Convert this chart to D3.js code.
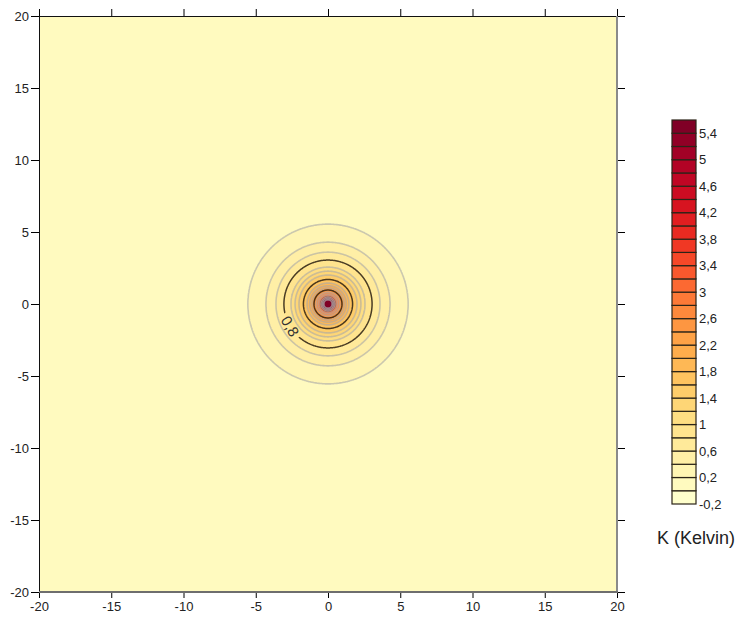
<!DOCTYPE html>
<html><head><meta charset="utf-8">
<script src="https://cdn.jsdelivr.net/npm/d3@7"></script>
<style>
body{margin:0;background:#fff}
svg text{font-family:"Liberation Sans",Arial,sans-serif}
</style>
</head><body>
<svg id="chart" width="740" height="618"></svg>
<script>
// ---- data ----
const xTicks = [-20, -15, -10, -5, 0, 5, 10, 15, 20];
const yTicks = [-20, -15, -10, -5, 0, 5, 10, 15, 20];
// lower edges of colour bands (K)
const bandLevels = [-0.2, 0, 0.2, 0.4, 0.6, 0.8, 1.0, 1.2, 1.4, 1.6, 1.8, 2.0, 2.2, 2.4, 2.6,
  2.8, 3.0, 3.2, 3.4, 3.6, 3.8, 4.0, 4.2, 4.4, 4.6, 4.8, 5.0, 5.2, 5.4];
const bandStep = 0.2;
const barTickValues = [-0.2, 0.2, 0.6, 1, 1.4, 1.8, 2.2, 2.6, 3, 3.4, 3.8, 4.2, 4.6, 5, 5.4];
const darkLevels = [0.8, 1.6, 2.4];
const midLevels = [3.2, 4.0, 4.8];
const labelLevel = 0.8;
// radial temperature profile (distance, K)
const profileRadius = [0, 0.26, 0.32, 0.4, 0.49, 0.57, 0.67, 0.81, 0.97, 1.11, 1.27, 1.45, 1.70, 2.01, 2.28, 2.56, 3.05, 3.60, 4.29, 5.54, 7.0, 30];
const profileValue  = [5.6, 5.45, 5.0, 4.2, 3.4, 3.0, 2.8, 2.6, 2.4, 2.2, 2.0, 1.8, 1.6, 1.4, 1.2, 1.0, 0.8, 0.6, 0.4, 0.2, 0.1, 0.05];
const colorbarTitle = "K (Kelvin)";

// ---- layout ----
const svg = d3.select("#chart");
const x = d3.scaleLinear().domain([-20, 20]).range([39, 617]);
const y = d3.scaleLinear().domain([-20, 20]).range([592, 16]);
const nb = bandLevels.length;
const bandColor = i => d3.interpolateYlOrRd(i / (nb - 1));
const fmt = d3.formatLocale({decimal: ",", thousands: ".", grouping: [3], currency: ["", ""], minus: "-"}).format(".1~f");

// ---- grid from profile ----
const g0 = -8, g1 = 8, step = 0.04;
const n = Math.round((g1 - g0) / step) + 1;
const bis = d3.bisector(d => d).right;
function profile(r) {
  let k = bis(profileRadius, r) - 1;
  if (k < 0) k = 0;
  if (k >= profileRadius.length - 1) return profileValue[profileValue.length - 1];
  const t = (r - profileRadius[k]) / (profileRadius[k + 1] - profileRadius[k]);
  return profileValue[k] + t * (profileValue[k + 1] - profileValue[k]);
}
const values = new Float64Array(n * n);
for (let j = 0; j < n; j++) {
  const yy = g1 - j * step;
  for (let i = 0; i < n; i++) {
    const xx = g0 + i * step;
    values[j * n + i] = profile(Math.hypot(xx, yy));
  }
}
const thresholds = bandLevels.filter(l => l > 0.1);
const contours = d3.contours().size([n, n]).thresholds(thresholds)(values);
const proj = d3.geoTransform({
  point: function(px, py) {
    this.stream.point(x(g0 + (px - 0.5) * step), y(g1 - (py - 0.5) * step));
  }
});
const path = d3.geoPath(proj);
const isLevel = (a, b) => Math.abs(a - b) < 1e-6;
const inList = (list, v) => list.some(d => isLevel(d, v));

// clip
svg.append("clipPath").attr("id", "plotclip").append("rect")
  .attr("x", x(-20)).attr("y", y(20)).attr("width", x(20) - x(-20)).attr("height", y(-20) - y(20));

const plot = svg.append("g").attr("clip-path", "url(#plotclip)");
plot.append("rect").attr("x", x(-20)).attr("y", y(20))
  .attr("width", x(20) - x(-20)).attr("height", y(-20) - y(20))
  .attr("fill", bandColor(1));

plot.append("g").selectAll("path").data(contours).join("path")
  .attr("d", path)
  .attr("fill", c => bandColor(bandLevels.findIndex(l => isLevel(l, c.value))));

plot.append("g").selectAll("path").data(contours.filter(c => !inList(darkLevels, c.value)))
  .join("path").attr("d", path).attr("fill", "none")
  .attr("stroke", c => inList(midLevels, c.value) ? "#6a6060" : "#a9a9a9")
  .attr("stroke-opacity", 0.6)
  .attr("stroke-width", c => c.value > 2.9 ? 1.0 : 1.6);

// label mask for the labelled contour
const labAngle = 149.5 * Math.PI / 180; // screen angle from centre
const rLab = profileRadius[profileValue.indexOf(labelLevel)];
const lx = x(0) + (x(rLab) - x(0)) * Math.cos(labAngle);
const ly = y(0) + (x(rLab) - x(0)) * Math.sin(labAngle);
const rot = labAngle * 180 / Math.PI - 90;
const mask = svg.append("mask").attr("id", "labmask");
mask.append("rect").attr("x", 0).attr("y", 0).attr("width", 740).attr("height", 618).attr("fill", "#fff");
mask.append("rect").attr("x", -14).attr("y", -9).attr("width", 28).attr("height", 18)
  .attr("transform", `translate(${lx},${ly}) rotate(${rot})`).attr("fill", "#000");

plot.append("g").attr("mask", "url(#labmask)").selectAll("path")
  .data(contours.filter(c => inList(darkLevels, c.value)))
  .join("path").attr("d", path).attr("fill", "none")
  .attr("stroke", "#2a1f10").attr("stroke-opacity", 0.85).attr("stroke-width", 1.5);

plot.append("text").attr("transform", `translate(${lx},${ly}) rotate(${rot})`)
  .attr("text-anchor", "middle").attr("dy", "0.35em")
  .attr("font-size", 15).attr("fill", "#333").text(fmt(labelLevel));

// ---- axes ----
const axFont = g => g.selectAll("text").attr("font-size", 13).attr("fill", "#222").attr("font-family", "Liberation Sans, Arial, sans-serif");
const noDomain = g => g.select(".domain").remove();
svg.append("g").attr("transform", `translate(${x(-20)},0)`)
  .call(d3.axisLeft(y).tickValues(yTicks).tickSize(8).tickPadding(2).tickFormat(d => String(d)))
  .call(noDomain).call(axFont);
svg.append("g").attr("transform", `translate(0,${y(-20)})`)
  .call(d3.axisBottom(x).tickValues(xTicks).tickSize(6).tickPadding(4).tickFormat(d => String(d)))
  .call(noDomain).call(axFont);
svg.append("g").attr("transform", `translate(0,${y(20)})`)
  .call(d3.axisTop(x).tickValues(xTicks).tickSize(7).tickFormat(""))
  .call(noDomain);
svg.append("g").attr("transform", `translate(${x(20)},0)`)
  .call(d3.axisRight(y).tickValues(yTicks).tickSize(8).tickFormat(""))
  .call(noDomain);

// frame
svg.append("line").attr("x1", x(-20) + 0.5).attr("x2", x(-20) + 0.5).attr("y1", y(20)).attr("y2", y(-20)).attr("stroke", "#111");
svg.append("line").attr("x1", x(-20)).attr("x2", x(20)).attr("y1", y(20) + 0.5).attr("y2", y(20) + 0.5).attr("stroke", "#111");
svg.append("line").attr("x1", x(20)).attr("x2", x(20)).attr("y1", y(20)).attr("y2", y(-20) + 1).attr("stroke", "#8a8a8a").attr("stroke-width", 2);
svg.append("line").attr("x1", x(-20)).attr("x2", x(20) + 1).attr("y1", y(-20)).attr("y2", y(-20)).attr("stroke", "#6e6e6e").attr("stroke-width", 2);

// ---- colour bar ----
const cb = d3.scaleLinear().domain([bandLevels[0], bandLevels[nb - 1] + bandStep]).range([504, 120]);
const cbx = 672, cbw = 24;
const bar = svg.append("g");
bar.selectAll("rect").data(bandLevels).join("rect")
  .attr("x", cbx).attr("width", cbw)
  .attr("y", d => cb(d + bandStep)).attr("height", d => cb(d) - cb(d + bandStep))
  .attr("fill", (d, i) => bandColor(i))
  .attr("stroke", "#2b2418").attr("stroke-width", 1.2);
bar.selectAll("text").data(barTickValues).join("text")
  .attr("x", cbx + cbw + 3).attr("y", d => cb(d)).attr("dy", "0.35em")
  .attr("font-size", 13).attr("fill", "#222").text(d => fmt(d));
svg.append("text").attr("x", 657).attr("y", 544).attr("font-size", 18).attr("fill", "#222").text(colorbarTitle);
</script>
</body></html>
